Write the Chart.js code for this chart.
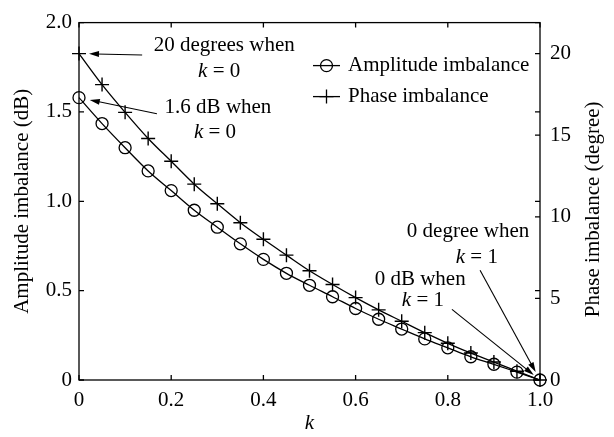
<!DOCTYPE html>
<html>
<head>
<meta charset="utf-8">
<script src="https://cdn.jsdelivr.net/npm/chart.js@4.4.1/dist/chart.umd.min.js"></script>
<style>
  html, body { margin: 0; padding: 0; background: #fff; }
  #wrap { width: 614px; height: 437px; }
</style>
</head>
<body>
<div id="wrap"><canvas id="imbalanceCanvas" width="614" height="437"></canvas></div>
<script>
// values
const kValues = [0, 0.05, 0.1, 0.15, 0.2, 0.25, 0.3, 0.35, 0.4, 0.45, 0.5,
                 0.55, 0.6, 0.65, 0.7, 0.75, 0.8, 0.85, 0.9, 0.95, 1.0];
const amplitudeDb = [1.58, 1.435, 1.30, 1.17, 1.06, 0.95, 0.855, 0.762, 0.675, 0.597, 0.53,
                     0.466, 0.40, 0.34, 0.285, 0.23, 0.18, 0.13, 0.088, 0.044, 0];
const phaseDeg = [20.0, 18.1, 16.4, 14.8, 13.4, 12.0, 10.8, 9.64, 8.62, 7.65, 6.69,
                  5.85, 5.05, 4.3, 3.6, 2.9, 2.25, 1.65, 1.1, 0.54, 0];

const kTicks = [0, 0.2, 0.4, 0.6, 0.8, 1.0];
const kTickLabels = ['0', '0.2', '0.4', '0.6', '0.8', '1.0'];
const ampTicks = [0, 0.5, 1.0, 1.5, 2.0];
const ampTickLabels = ['0', '0.5', '1.0', '1.5', '2.0'];
const phaseTicks = [0, 5, 10, 15, 20];
const phaseTickLabels = ['0', '5', '10', '15', '20'];

const FONT = "'Liberation Serif', 'DejaVu Serif', serif";
Chart.defaults.font.family = FONT;
Chart.defaults.font.size = 21;
Chart.defaults.color = '#000';

const TICK = 5;

// notes with arrows, text anchored in data units (k, dB)
const notes = [
  { lines: [[['20 degrees when', false]], [['k', true], [' = 0', false]]],
    pos: [[0.315, 1.874], [0.304, 1.726]], from: [0.137, 1.819], ds: 1, idx: 0, gap: 10 },
  { lines: [[['1.6 dB when', false]], [['k', true], [' = 0', false]]],
    pos: [[0.3015, 1.523], [0.295, 1.386]], from: [0.169, 1.49], ds: 0, idx: 0, gap: 11 },
  { lines: [[['0 degree when', false]], [['k', true], [' = 1', false]]],
    pos: [[0.844, 0.833], [0.863, 0.685]], from: [0.87, 0.614], ds: 1, idx: 20, gap: 9 },
  { lines: [[['0 dB when', false]], [['k', true], [' = 1', false]]],
    pos: [[0.74, 0.564], [0.746, 0.444]], from: [0.809, 0.395], ds: 0, idx: 20, gap: 8 }
];

function drawRich(ctx, segs, cx, cy) {
  let total = 0;
  const widths = segs.map(([t, it]) => {
    ctx.font = (it ? 'italic ' : '') + '21px ' + FONT;
    const w = ctx.measureText(t).width;
    total += w;
    return w;
  });
  let x = cx - total / 2;
  segs.forEach(([t, it], i) => {
    ctx.font = (it ? 'italic ' : '') + '21px ' + FONT;
    ctx.fillText(t, x, cy);
    x += widths[i];
  });
}

function drawArrow(ctx, sx, sy, tx, ty, gap) {
  const dx = tx - sx, dy = ty - sy;
  const len = Math.hypot(dx, dy);
  const ux = dx / len, uy = dy / len;
  const ex = tx - ux * gap, ey = ty - uy * gap;
  const L = 10, W = 3;
  ctx.beginPath();
  ctx.moveTo(sx, sy);
  ctx.lineTo(ex - ux * L * 0.7, ey - uy * L * 0.7);
  ctx.stroke();
  ctx.beginPath();
  ctx.moveTo(ex, ey);
  ctx.lineTo(ex - ux * L - uy * W, ey - uy * L + ux * W);
  ctx.lineTo(ex - ux * L + uy * W, ey - uy * L - ux * W);
  ctx.closePath();
  ctx.fill();
}

const boxAndNotes = {
  id: 'boxAndNotes',
  afterDraw(chart) {
    const { ctx, chartArea: a, scales } = chart;
    const xs = scales.x, yl = scales.y, yr = scales.y2;
    ctx.save();
    ctx.strokeStyle = '#000';
    ctx.fillStyle = '#000';
    ctx.lineWidth = 1.3;
    ctx.strokeRect(a.left, a.top, a.right - a.left, a.bottom - a.top);

    // inward ticks, mirrored like a boxed plot
    ctx.beginPath();
    kTicks.forEach(v => {
      const px = xs.getPixelForValue(v);
      ctx.moveTo(px, a.bottom); ctx.lineTo(px, a.bottom - TICK);
      ctx.moveTo(px, a.top); ctx.lineTo(px, a.top + TICK);
    });
    ampTicks.forEach(v => {
      const py = yl.getPixelForValue(v);
      ctx.moveTo(a.left, py); ctx.lineTo(a.left + TICK, py);
      ctx.moveTo(a.right, py); ctx.lineTo(a.right - TICK, py);
    });
    phaseTicks.forEach(v => {
      const py = yr.getPixelForValue(v);
      ctx.moveTo(a.right, py); ctx.lineTo(a.right - TICK, py);
    });
    ctx.stroke();

    // right axis title, reading bottom to top
    ctx.save();
    ctx.translate(593, (a.top + a.bottom) / 2 + 8);
    ctx.rotate(-Math.PI / 2);
    ctx.textAlign = 'center';
    ctx.textBaseline = 'middle';
    ctx.font = '21px ' + FONT;
    ctx.fillText('Phase imbalance (degree)', 0, 0);
    ctx.restore();

    // legend
    ctx.textBaseline = 'middle';
    ctx.textAlign = 'left';
    ctx.font = '21px ' + FONT;
    chart.data.datasets.forEach((ds, i) => {
      const lx = a.left + 234, ly = a.top + 43 + i * 31;
      ctx.lineWidth = 1.3;
      ctx.beginPath();
      ctx.moveTo(lx, ly); ctx.lineTo(lx + 27, ly);
      ctx.stroke();
      ctx.fillStyle = 'rgba(0,0,0,0)';
      Chart.helpers.drawPoint(ctx, { pointStyle: ds.pointStyle, radius: ds.pointRadius,
        borderWidth: ds.pointBorderWidth, rotation: 0 }, lx + 13.5, ly);
      ctx.fillStyle = '#000';
      ctx.fillText(ds.label, lx + 35, ly);
    });

    // annotations
    ctx.lineWidth = 1.1;
    notes.forEach(n => {
      n.lines.forEach((segs, j) => {
        drawRich(ctx, segs, xs.getPixelForValue(n.pos[j][0]), yl.getPixelForValue(n.pos[j][1]));
      });
      const pt = chart.getDatasetMeta(n.ds).data[n.idx];
      drawArrow(ctx, xs.getPixelForValue(n.from[0]), yl.getPixelForValue(n.from[1]), pt.x, pt.y, n.gap);
    });
    ctx.restore();
  }
};

const ctx = document.getElementById('imbalanceCanvas').getContext('2d');
new Chart(ctx, {
  type: 'line',
  data: {
    datasets: [
      {
        label: 'Amplitude imbalance',
        data: kValues.map((k, i) => ({ x: k, y: amplitudeDb[i] })),
        yAxisID: 'y',
        borderColor: '#000',
        borderWidth: 1.3,
        pointStyle: 'circle',
        pointRadius: 6,
        pointBorderWidth: 1.3,
        pointBorderColor: '#000',
        pointBackgroundColor: 'rgba(0,0,0,0)',
        cubicInterpolationMode: 'monotone',
        fill: false,
        clip: false
      },
      {
        label: 'Phase imbalance',
        data: kValues.map((k, i) => ({ x: k, y: phaseDeg[i] })),
        yAxisID: 'y2',
        borderColor: '#000',
        borderWidth: 1.3,
        pointStyle: 'cross',
        pointRadius: 7,
        pointBorderWidth: 1.4,
        pointBorderColor: '#000',
        pointBackgroundColor: 'rgba(0,0,0,0)',
        cubicInterpolationMode: 'monotone',
        fill: false,
        clip: false
      }
    ]
  },
  options: {
    responsive: false,
    devicePixelRatio: 1,
    animation: false,
    layout: { padding: { top: 15, left: 0, right: 0, bottom: 0 } },
    plugins: { legend: { display: false }, tooltip: { enabled: false } },
    scales: {
      x: {
        type: 'linear',
        min: 0, max: 1,
        afterBuildTicks: s => { s.ticks = kTicks.map(v => ({ value: v })); },
        afterFit: s => { s.height = 57; },
        ticks: { callback: (v, i) => kTickLabels[i], padding: 8, maxRotation: 0, autoSkip: false },
        grid: { display: false, drawTicks: false },
        border: { display: false },
        title: { display: true, text: 'k', font: { style: 'italic' }, padding: { top: 0, bottom: 1 } }
      },
      y: {
        position: 'left',
        min: 0, max: 2,
        afterBuildTicks: s => { s.ticks = ampTicks.map(v => ({ value: v })); },
        afterFit: s => { s.width = 79; },
        ticks: { callback: (v, i) => ampTickLabels[i], padding: 7 },
        grid: { display: false, drawTicks: false },
        border: { display: false },
        title: { display: true, text: 'Amplitude imbalance (dB)', padding: { top: 10, bottom: 0 } }
      },
      y2: {
        position: 'right',
        min: 0, max: 21.9,
        afterBuildTicks: s => { s.ticks = phaseTicks.map(v => ({ value: v })); },
        afterFit: s => { s.width = 74; },
        ticks: { callback: (v, i) => phaseTickLabels[i], padding: 10 },
        grid: { display: false, drawTicks: false },
        border: { display: false },
        title: { display: false }
      }
    }
  },
  plugins: [boxAndNotes]
});
</script>
</body>
</html>
